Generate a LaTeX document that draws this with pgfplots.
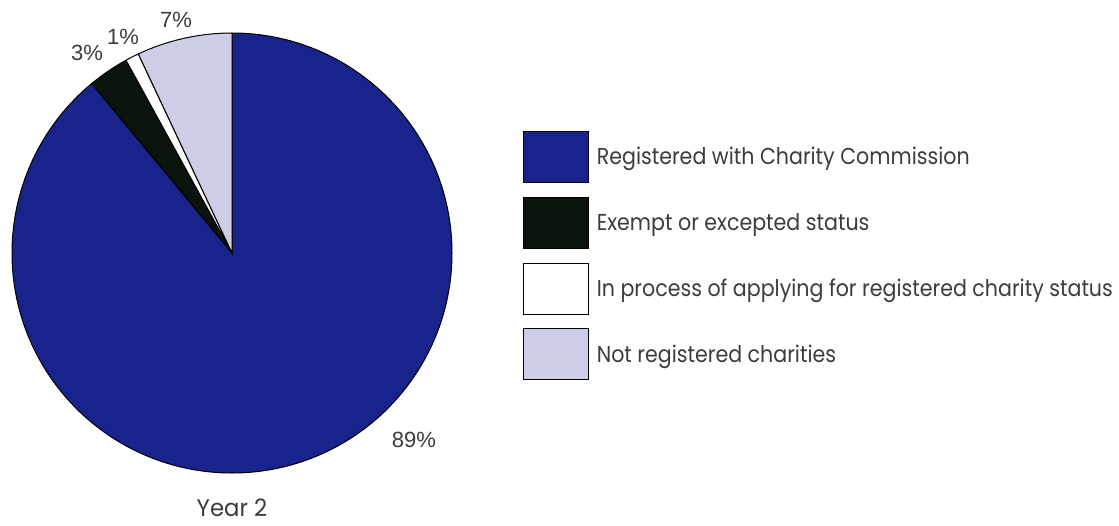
\documentclass[border=0pt]{standalone}
\usepackage{graphicx}
\usepackage{pgfplots}
\pgfplotsset{compat=1.18}
\usepackage{pgfplotstable}
\usepackage{fontspec}
\setmainfont{Liberation Sans}
\newfontfamily\legfont{Poppins}
\definecolor{cblue}{RGB}{24,36,140}
\definecolor{cblack}{RGB}{10,20,12}
\definecolor{clight}{RGB}{205,205,232}
\definecolor{ctext}{RGB}{60,60,60}
\pgfplotstableread{
label value
Registered 89
Exempt 3
Process 1
NotReg 7
}\piedata
\pgfplotsset{boxlegend/.style={legend image code/.code={\draw[##1,line width=0.8pt] (0pt,-25.5pt) rectangle (65pt,25.5pt);}}}
\newcommand{\lt}[1]{\scalebox{0.895}[1]{\legfont #1}}
\begin{document}
\begin{tikzpicture}
\useasboundingbox (0,0) rectangle (1119pt,525pt);
\pgfplotstablegetelem{0}{value}\of\piedata \let\vA\pgfplotsretval
\pgfplotstablegetelem{1}{value}\of\piedata \let\vB\pgfplotsretval
\pgfplotstablegetelem{2}{value}\of\piedata \let\vC\pgfplotsretval
\pgfplotstablegetelem{3}{value}\of\piedata \let\vD\pgfplotsretval
\pgfmathsetmacro\sA{90}
\pgfmathsetmacro\eA{\sA-3.6*\vA}
\pgfmathsetmacro\eB{\eA-3.6*\vB}
\pgfmathsetmacro\eC{\eB-3.6*\vC}
\pgfmathsetmacro\eD{\eC-3.6*\vD}
\begin{axis}[
  at={(0,0)}, anchor=south west,
  scale only axis, width=1119pt, height=525pt,
  xmin=0, xmax=1119, ymin=0, ymax=525, y dir=reverse,
  hide axis, clip=false,
  legend style={at={(axis cs:523,131)}, anchor=north west, draw=none, fill=none,
    inner sep=0pt, outer sep=0pt, row sep=14pt, cells={anchor=west},
    text=ctext, font=\fontsize{23}{26}\selectfont,
    nodes={inner xsep=8pt}},
]
\addlegendimage{boxlegend, fill=cblue, draw=black}
\addlegendentry{\lt{Registered with Charity Commission}}
\addlegendimage{boxlegend, fill=cblack, draw=black}
\addlegendentry{\lt{Exempt or excepted status}}
\addlegendimage{boxlegend, fill=white, draw=black}
\addlegendentry{\lt{In process of applying for registered charity status}}
\addlegendimage{boxlegend, fill=clight, draw=black}
\addlegendentry{\lt{Not registered charities}}
\fill[cblue, draw=black, line width=1pt] (axis cs:232,253) -- ([shift={(\sA:220pt)}]axis cs:232,253) arc[start angle=\sA, end angle=\eA, radius=220pt] -- cycle;
\fill[cblack, draw=black, line width=1pt] (axis cs:232,253) -- ([shift={(\eA:220pt)}]axis cs:232,253) arc[start angle=\eA, end angle=\eB, radius=220pt] -- cycle;
\fill[white, draw=black, line width=1pt] (axis cs:232,253) -- ([shift={(\eB:220pt)}]axis cs:232,253) arc[start angle=\eB, end angle=\eC, radius=220pt] -- cycle;
\fill[clight, draw=black, line width=1pt] (axis cs:232,253) -- ([shift={(\eC:220pt)}]axis cs:232,253) arc[start angle=\eC, end angle=\eD, radius=220pt] -- cycle;
\node[text=ctext, font=\fontsize{22}{24}\selectfont] at (axis cs:414,440) {89\%};
\node[text=ctext, font=\fontsize{22}{24}\selectfont] at (axis cs:87,53) {3\%};
\node[text=ctext, font=\fontsize{22}{24}\selectfont] at (axis cs:123,37) {1\%};
\node[text=ctext, font=\fontsize{22}{24}\selectfont] at (axis cs:176,20) {7\%};
\node[text=ctext, font=\fontsize{24}{27}\selectfont, inner sep=0pt, anchor=base] at (axis cs:232,516) {\scalebox{0.95}[1]{\legfont Year 2}};
\end{axis}
\end{tikzpicture}
\end{document}
